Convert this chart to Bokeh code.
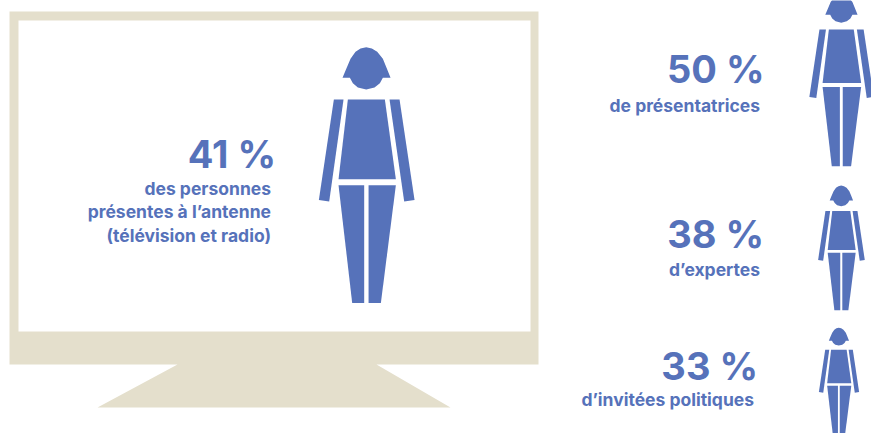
from bokeh.plotting import figure
from bokeh.models import Range1d, ColumnDataSource
from bokeh.core.properties import value
from bokeh.embed import file_html
from bokeh.resources import INLINE

# Data
shares = [41, 50, 38, 33]
captions = [
    ["des personnes", "présentes à l’antenne", "(télévision et radio)"],
    ["de présentatrices"],
    ["d’expertes"],
    ["d’invitées politiques"],
]

# Layout (pixel space of the picture)
person_cx = [365.7, 840.7, 840.7, 838.3]
person_top = [46.7, -6.3, 185.0, 327.3]
person_h = [255.7, 172.0, 124.7, 107.5]
pct_right = [275.5, 764, 763.5, 757.5]
pct_base = [153.5, 68.5, 233.5, 365.5]
cap_right = [270.5, 759.5, 759.5, 753.5]
cap_base = [[187.7, 210.7, 234.7], [104.7], [269.4], [399.4]]

BLUE = "#5672BA"
BEIGE = "#E4DFCC"
FONT = "Inter"

# Silhouette outline, in units of the original drawing (centre 197, top 50, height 767)
SIL = [
    [(126, 142), (136, 118), (150, 85), (165, 64), (180, 54), (197, 50), (214, 54), (230, 64),
     (247, 85), (258, 112), (270, 142), (247, 142), (238, 158), (222, 171), (197, 177),
     (172, 171), (157, 158), (148, 142)],
    [(142, 207), (253, 207), (286, 446), (114, 446)],
    [(100, 207), (129, 207), (86, 513), (55, 508)],
    [(267, 207), (297, 207), (342, 508), (311, 513)],
    [(114, 464), (191, 464), (191, 817), (155, 817)],
    [(204, 464), (286, 464), (241, 817), (204, 817)],
]

p = figure(width=871, height=433, output_backend="svg", toolbar_location=None,
           x_range=Range1d(0, 871), y_range=Range1d(433, 0),
           min_border=0)
p.xaxis.visible = False
p.yaxis.visible = False
p.grid.visible = False
p.outline_line_color = None
p.background_fill_color = "white"

# Television
p.patches(
    xs=[[9, 538, 538, 376, 450, 97, 177, 9], [18, 530, 530, 18]],
    ys=[[11, 11, 364, 364, 407, 407, 364, 364], [20, 20, 331, 331]],
    fill_color=[BEIGE, "white"], line_color=None,
)

# People
xs, ys = [], []
for cx, top, h in zip(person_cx, person_top, person_h):
    s = h / 767
    for part in SIL:
        xs.append([cx + (a - 197) * s for a, _ in part])
        ys.append([top + (b - 50) * s for _, b in part])
p.patches(xs=xs, ys=ys, fill_color=BLUE, line_color=None)

# Figures
pct_src = ColumnDataSource(dict(x=pct_right, y=pct_base, t=[f"{v} %" for v in shares]))
p.text(x="x", y="y", text="t", source=pct_src, text_color=BLUE, text_align="right",
       text_baseline="alphabetic", text_font=value(FONT), text_font_style="bold",
       text_font_size="38px")

# Captions
cx_, cy_, ct_ = [], [], []
for r, bases, lines in zip(cap_right, cap_base, captions):
    for b, l in zip(bases, lines):
        cx_.append(r); cy_.append(b); ct_.append(l)
cap_src = ColumnDataSource(dict(x=cx_, y=cy_, t=ct_))
p.text(x="x", y="y", text="t", source=cap_src, text_color=BLUE, text_align="right",
       text_baseline="alphabetic", text_font=value(FONT), text_font_style="bold",
       text_font_size="17.5px")

open("out.html", "w").write(file_html(p, INLINE))
